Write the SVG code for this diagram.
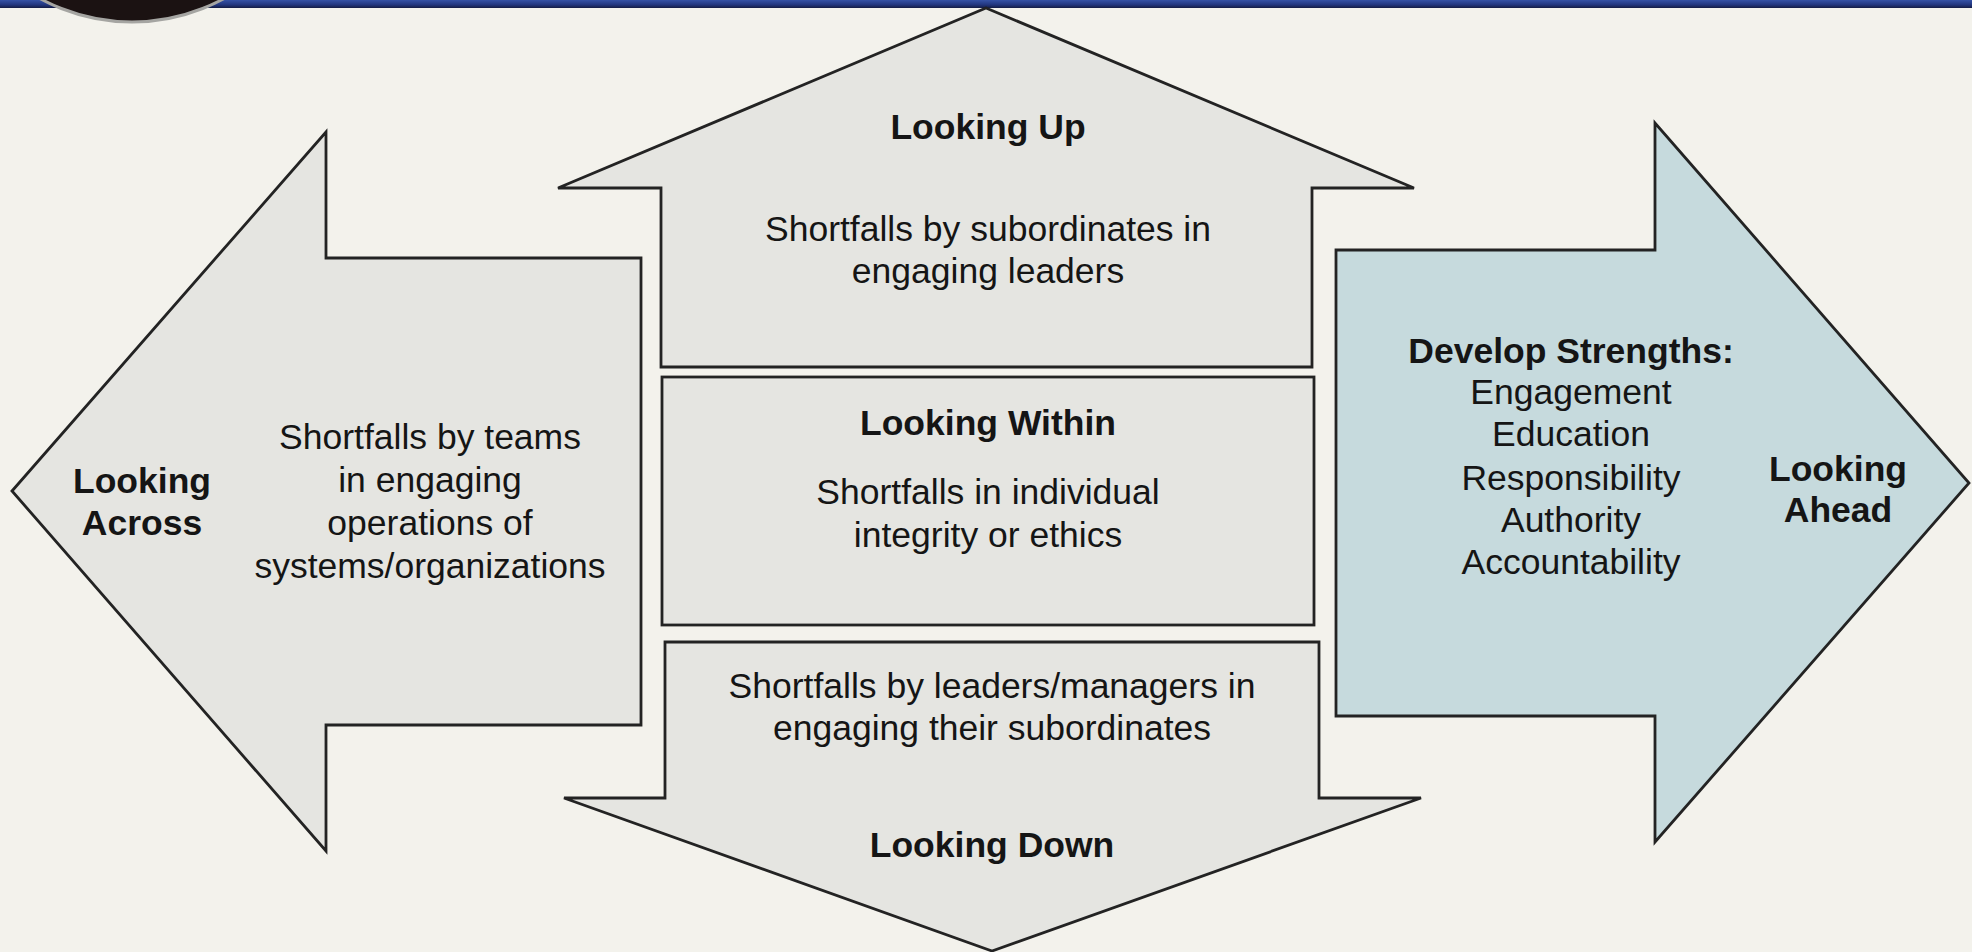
<svg xmlns="http://www.w3.org/2000/svg" width="1972" height="952" viewBox="0 0 1972 952">
  <defs>
    <linearGradient id="barGrad" x1="0" y1="0" x2="0" y2="1">
      <stop offset="0" stop-color="#3552a6"/>
      <stop offset="0.6" stop-color="#22367e"/>
      <stop offset="1" stop-color="#141c44"/>
    </linearGradient>
    <style>
      .shape { stroke: #232323; stroke-width: 2.8; stroke-linejoin: miter; }
      .gray { fill: #e5e5e1; }
      .blue { fill: #c6dadd; }
      text { font-family: "Liberation Sans", Arial, Helvetica, sans-serif; font-size: 35.5px; fill: #151515; text-anchor: middle; }
      .b { font-weight: bold; }
    </style>
  </defs>

  <!-- paper background -->
  <rect x="0" y="0" width="1972" height="952" fill="#f3f2ec"/>

  <!-- header band and emblem -->
  <g id="header">
    <rect x="0" y="0" width="1972" height="8" fill="url(#barGrad)"/>
    <circle cx="132" cy="-170" r="192" fill="#1b1212" stroke="#a5a5a2" stroke-width="3"/>
  </g>

  <!-- Looking Across: left-pointing arrow -->
  <g id="looking-across">
    <path class="shape gray" d="M12,491 L326,132 L326,258 L641,258 L641,725 L326,725 L326,851 Z"/>
    <text class="b" x="142" y="493">Looking</text>
    <text class="b" x="142" y="535">Across</text>
    <text x="430" y="449">Shortfalls by teams</text>
    <text x="430" y="492">in engaging</text>
    <text x="430" y="535">operations of</text>
    <text x="430" y="578">systems/organizations</text>
  </g>

  <!-- Looking Up: upward arrow -->
  <g id="looking-up">
    <path class="shape gray" d="M986,8 L1414,188 L1312,188 L1312,367 L661,367 L661,188 L558,188 Z"/>
    <text class="b" x="988" y="139">Looking Up</text>
    <text x="988" y="241">Shortfalls by subordinates in</text>
    <text x="988" y="283">engaging leaders</text>
  </g>

  <!-- Looking Within: centre box -->
  <g id="looking-within">
    <rect class="shape gray" x="662" y="377" width="652" height="248"/>
    <text class="b" x="988" y="435">Looking Within</text>
    <text x="988" y="504">Shortfalls in individual</text>
    <text x="988" y="547">integrity or ethics</text>
  </g>

  <!-- Looking Down: downward arrow -->
  <g id="looking-down">
    <path class="shape gray" d="M665,642 L1319,642 L1319,798 L1421,798 L992,951 L564,798 L665,798 Z"/>
    <text x="992" y="698">Shortfalls by leaders/managers in</text>
    <text x="992" y="740">engaging their subordinates</text>
    <text class="b" x="992" y="857">Looking Down</text>
  </g>

  <!-- Looking Ahead: right-pointing arrow -->
  <g id="looking-ahead">
    <path class="shape blue" d="M1336,250 L1655,250 L1655,123 L1969,483 L1655,842 L1655,716 L1336,716 Z"/>
    <text class="b" x="1571" y="363">Develop Strengths:</text>
    <text x="1571" y="404">Engagement</text>
    <text x="1571" y="446">Education</text>
    <text x="1571" y="490">Responsibility</text>
    <text x="1571" y="532">Authority</text>
    <text x="1571" y="574">Accountability</text>
    <text class="b" x="1838" y="481">Looking</text>
    <text class="b" x="1838" y="522">Ahead</text>
  </g>
</svg>
